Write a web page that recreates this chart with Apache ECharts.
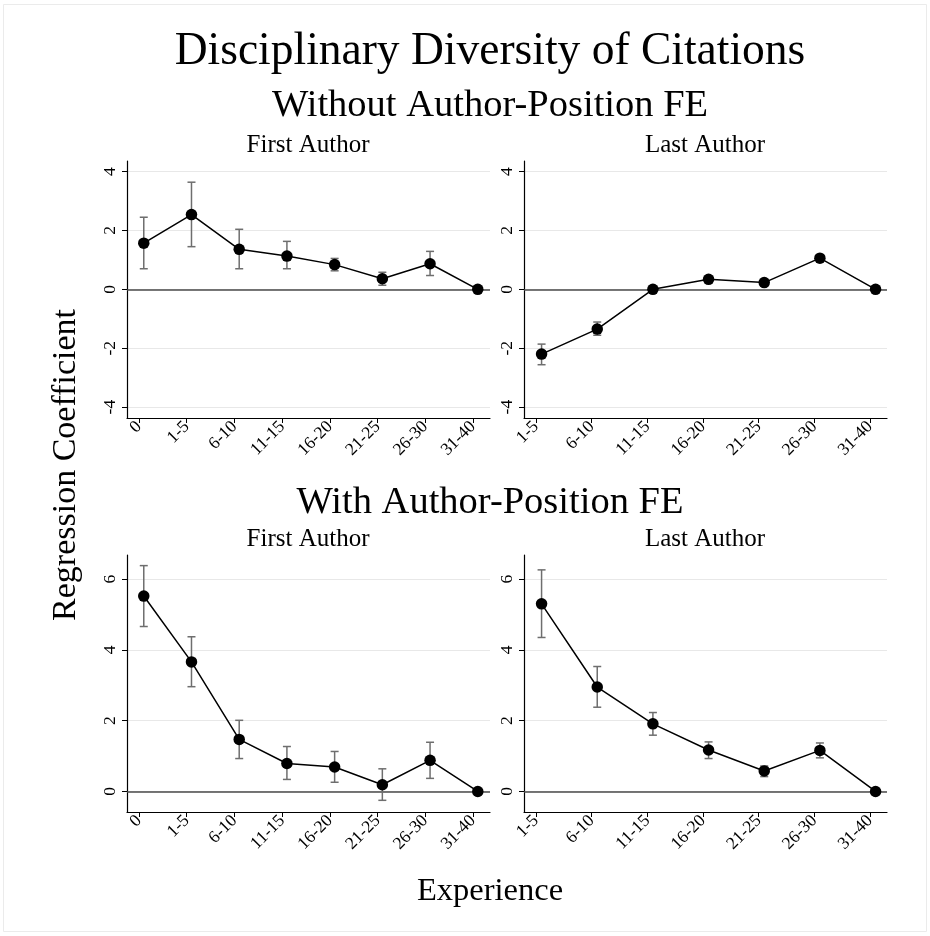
<!DOCTYPE html>
<html>
<head>
<meta charset="utf-8">
<title>Disciplinary Diversity of Citations</title>
<script src="https://cdn.jsdelivr.net/npm/echarts@6.0.0/dist/echarts.min.js"></script>
<style>
  html, body { margin: 0; padding: 0; background: #fff; }
  #chart { width: 930px; height: 936px; }
</style>
</head>
<body>
<div id="chart"></div>
<script>
// Experience bins
const catsFirst = ['0', '1-5', '6-10', '11-15', '16-20', '21-25', '26-30', '31-40'];
const catsLast = ['1-5', '6-10', '11-15', '16-20', '21-25', '26-30', '31-40'];

// Without author-position fixed effects
const woFirstCoef = [1.57, 2.54, 1.36, 1.13, 0.84, 0.36, 0.87, 0];
const woFirstLo   = [0.70, 1.45, 0.70, 0.70, 0.63, 0.14, 0.47, null];
const woFirstHi   = [2.45, 3.64, 2.04, 1.63, 1.05, 0.58, 1.29, null];
const woLastCoef  = [-2.20, -1.35, 0, 0.34, 0.23, 1.06, 0];
const woLastLo    = [-2.56, -1.56, null, 0.27, 0.16, 0.97, null];
const woLastHi    = [-1.86, -1.11, null, 0.41, 0.30, 1.15, null];

// With author-position fixed effects
const wFirstCoef = [5.52, 3.66, 1.47, 0.79, 0.69, 0.19, 0.88, 0];
const wFirstLo   = [4.66, 2.96, 0.93, 0.34, 0.26, -0.25, 0.37, null];
const wFirstHi   = [6.38, 4.37, 2.01, 1.27, 1.13, 0.64, 1.39, null];
const wLastCoef  = [5.30, 2.95, 1.91, 1.17, 0.58, 1.16, 0];
const wLastLo    = [4.35, 2.38, 1.59, 0.93, 0.42, 0.95, null];
const wLastHi    = [6.26, 3.53, 2.23, 1.40, 0.72, 1.37, null];

// Tick values
const ticksTop = [-4, -2, 0, 2, 4];
const ticksBottom = [0, 2, 4, 6];

// Markers sit a little to the right of each category tick
const pointShift = 0.1;

const FONT = 'Liberation Serif';
const panels = [
  { cats: catsFirst, coef: woFirstCoef, lo: woFirstLo, hi: woFirstHi, ticks: ticksTop,    yMin: -4.37, yMax: 4.36, left: 127, top: 161 },
  { cats: catsLast,  coef: woLastCoef,  lo: woLastLo,  hi: woLastHi,  ticks: ticksTop,    yMin: -4.37, yMax: 4.36, left: 524, top: 161 },
  { cats: catsFirst, coef: wFirstCoef,  lo: wFirstLo,  hi: wFirstHi,  ticks: ticksBottom, yMin: -0.58, yMax: 6.68, left: 127, top: 555 },
  { cats: catsLast,  coef: wLastCoef,   lo: wLastLo,   hi: wLastHi,   ticks: ticksBottom, yMin: -0.58, yMax: 6.68, left: 524, top: 555 }
];

function xRange(n) {
  // fixed pixel padding on both sides of the category ticks
  const width = 363;
  const step = (width - 12 - 17) / (n - 1);
  return { min: -12 / step, max: (n - 1) + 17 / step };
}

function renderErrorBar(params, api) {
  const x = api.value(0);
  const pLo = api.coord([x, api.value(1)]);
  const pHi = api.coord([x, api.value(2)]);
  const w = 4;
  const style = { stroke: '#6e6e6e', lineWidth: 1.5 };
  return {
    type: 'group',
    children: [
      { type: 'line', shape: { x1: pLo[0], y1: pLo[1], x2: pHi[0], y2: pHi[1] }, style: style },
      { type: 'line', shape: { x1: pLo[0] - w, y1: pLo[1], x2: pLo[0] + w, y2: pLo[1] }, style: style },
      { type: 'line', shape: { x1: pHi[0] - w, y1: pHi[1], x2: pHi[0] + w, y2: pHi[1] }, style: style }
    ]
  };
}

const grid = [], xAxis = [], yAxis = [], series = [];
panels.forEach(function (p, k) {
  const n = p.cats.length;
  const xr = xRange(n);
  const idx = p.cats.map(function (_, i) { return i; });
  grid.push({ left: p.left, top: p.top, width: 363, height: 257 });
  xAxis.push({
    type: 'value', gridIndex: k, min: xr.min, max: xr.max,
    axisLine: { show: true, onZero: false, lineStyle: { color: '#000', width: 1.2 } },
    axisTick: { show: true, customValues: idx, length: 5, lineStyle: { color: '#000' } },
    axisLabel: {
      customValues: idx, rotate: 45, margin: 6,
      fontFamily: FONT, fontSize: 17.5, color: '#000',
      formatter: function (v) { return p.cats[Math.round(v)]; }
    },
    splitLine: { show: false }
  });
  yAxis.push({
    type: 'value', gridIndex: k, min: p.yMin, max: p.yMax,
    axisLine: { show: true, onZero: false, lineStyle: { color: '#000', width: 1.2 } },
    axisTick: { show: true, customValues: p.ticks, length: 5, lineStyle: { color: '#000' } },
    axisLabel: {
      customValues: p.ticks, rotate: 90, margin: 8,
      fontFamily: FONT, fontSize: 17.5, color: '#000'
    },
    splitLine: { show: true, lineStyle: { color: '#e8e8e8', width: 1.2 } }
  });
  const errData = [];
  p.coef.forEach(function (c, i) {
    if (p.lo[i] !== null) errData.push([i + pointShift, p.lo[i], p.hi[i]]);
  });
  series.push({
    type: 'custom', xAxisIndex: k, yAxisIndex: k, z: 3,
    renderItem: renderErrorBar, encode: { x: 0, y: [1, 2] }, data: errData, silent: true
  });
  series.push({
    type: 'line', xAxisIndex: k, yAxisIndex: k, z: 4,
    data: p.coef.map(function (c, i) { return [i + pointShift, c]; }),
    symbol: 'circle', symbolSize: 11.5,
    itemStyle: { color: '#000' },
    lineStyle: { color: '#000', width: 1.5 },
    animation: false, silent: true,
    markLine: {
      silent: true, symbol: 'none', label: { show: false },
      lineStyle: { color: '#4a4a4a', width: 1.6, type: 'solid' },
      data: [{ yAxis: 0 }], animation: false, z: 2
    }
  });
});

function txt(x, y, text, size, rotation) {
  return {
    type: 'text', x: x, y: y, rotation: rotation || 0,
    style: { text: text, fontFamily: FONT, fontSize: size, fill: '#000', align: 'center', verticalAlign: 'middle' }
  };
}

const graphic = [
  { type: 'rect', shape: { x: 3.5, y: 4.5, width: 923, height: 927 }, style: { fill: 'none', stroke: '#ebebeb', lineWidth: 1 }, z: -1 },
  txt(490, 52, 'Disciplinary Diversity of Citations', 45.5),
  txt(490, 106, 'Without Author-Position FE', 38.5),
  txt(308, 145, 'First Author', 25),
  txt(705, 145, 'Last Author', 25),
  txt(490, 503, 'With Author-Position FE', 38.5),
  txt(308, 539, 'First Author', 25),
  txt(705, 539, 'Last Author', 25),
  txt(66, 465, 'Regression Coefficient', 34, Math.PI / 2),
  txt(490, 891, 'Experience', 32.5)
];

const chart = echarts.init(document.getElementById('chart'), null, { renderer: 'canvas' });
chart.setOption({
  animation: false,
  backgroundColor: '#fff',
  grid: grid, xAxis: xAxis, yAxis: yAxis, series: series, graphic: graphic
});
</script>
</body>
</html>
